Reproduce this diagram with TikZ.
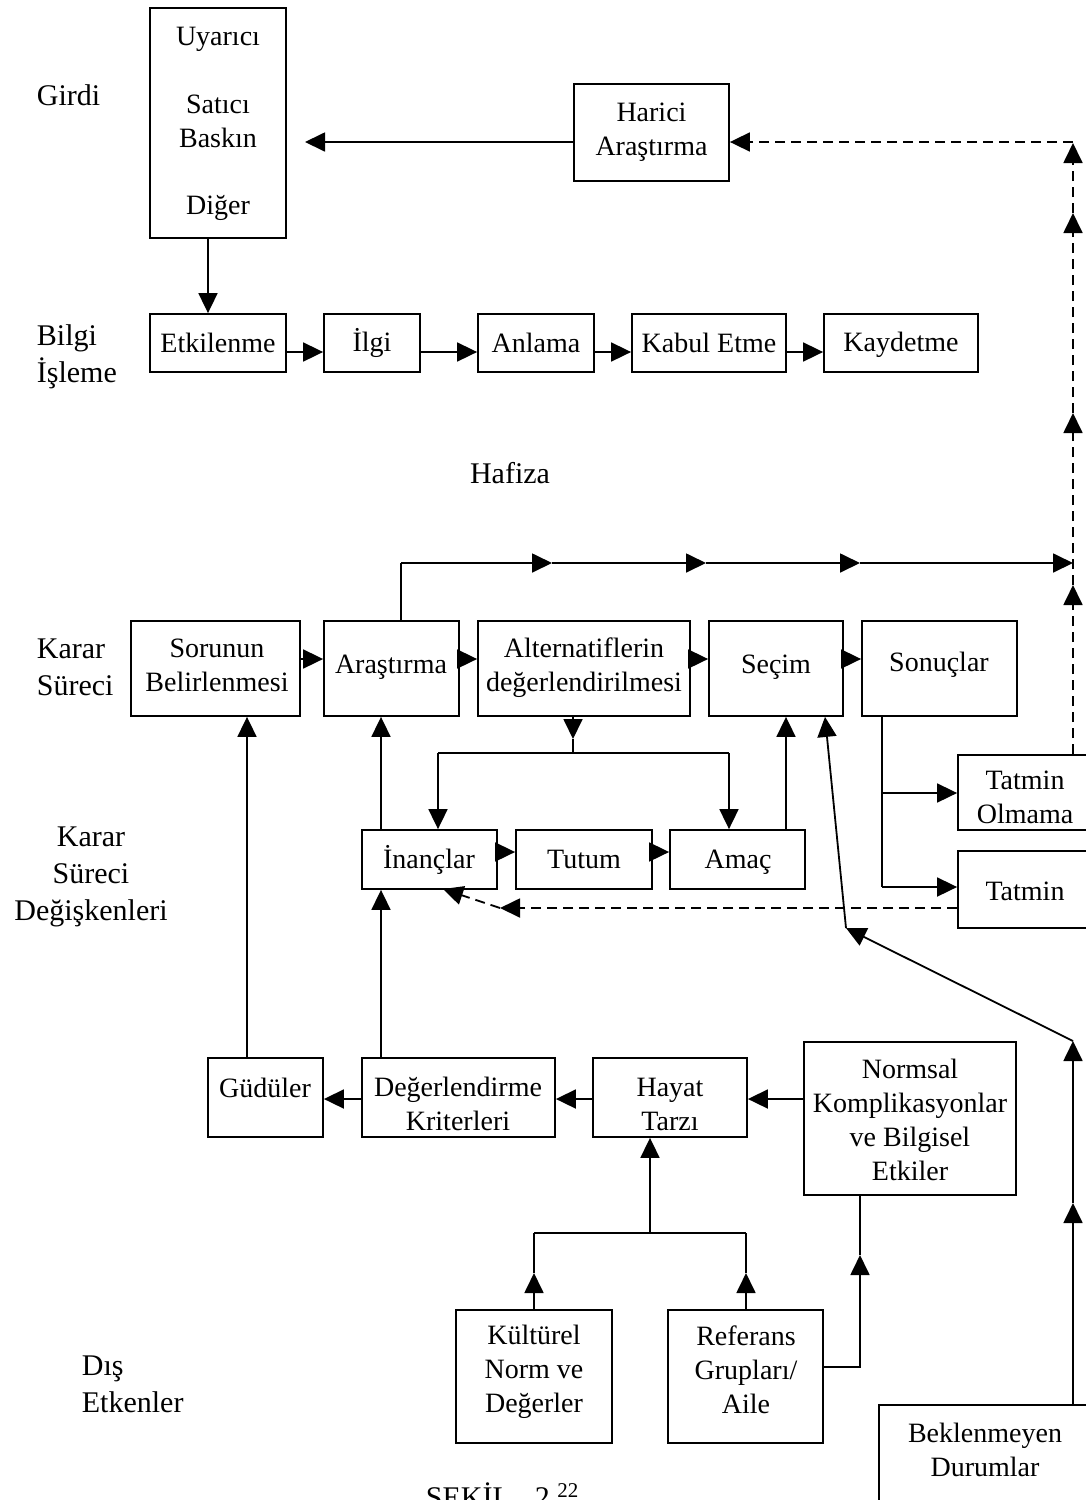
\documentclass[tikz,border=0pt]{standalone}
\usepackage{fontspec}
\setmainfont{Liberation Serif}
\usetikzlibrary{arrows.meta}
\begin{document}
\begin{tikzpicture}[x=1pt,y=-1pt,
  line width=1.8pt,
  box/.style={draw, line width=1.8pt, rectangle, inner sep=0pt},
  txt/.style={font=\fontsize{28}{34}\selectfont, align=center, inner sep=0pt},
  lbl/.style={font=\fontsize{30}{37}\selectfont, align=left, inner sep=0pt, anchor=west},
  clbl/.style={font=\fontsize{30}{37}\selectfont, align=center, inner sep=0pt},
  arr/.style={-{Triangle[length=20pt,width=19pt]}},
  darr/.style={arr, dash pattern=on 10pt off 6pt},
]
\useasboundingbox (0,0) rectangle (1085,1500);

% ---- side labels ----
\node[lbl] (girdi) at (36,95) {Girdi};
\node[lbl] (bilgi) at (36,357) {Bilgi\\İşleme};
\node[clbl] (hafiza) at (510,473) {Hafiza};
\node[lbl] (karar) at (36,667) {Karar\\Süreci};
\node[clbl] (kararvar) at (91,877) {Karar\\Süreci\\Değişkenleri};
\node[lbl] (dis) at (81,1384) {Dış\\Etkenler};
\node[font=\fontsize{30}{37}\selectfont, inner sep=0pt, anchor=base west] (sekil) at (425,1507) {ŞEKİL\hspace{24pt}2.\textsuperscript{22}};

% ---- input ----
\node[box, minimum width=136pt, minimum height=230pt] (inp) at (218,123) {};
\node[txt] (inp-a) at (218,39) {Uyarıcı};
\node[txt] (inp-b) at (218,121) {Satıcı\\Baskın};
\node[txt] (inp-c) at (218,208) {Diğer};

\node[box, minimum width=155pt, minimum height=97pt] (harici) at (651.5,132.5) {};
\node[txt] (harici-t) at (651.5,132) {Harici\\Araştırma};

% ---- information processing ----
\node[box, minimum width=136pt, minimum height=58pt] (etk) at (218,343) {};
\node[txt] at (218,343) (etk-t) {Etkilenme};
\node[box, minimum width=96pt, minimum height=58pt] (ilgi) at (372,343) {};
\node[txt] at (372,343) (ilgi-t) {İlgi};
\node[box, minimum width=116pt, minimum height=58pt] (anl) at (536,343) {};
\node[txt] at (536,343) (anl-t) {Anlama};
\node[box, minimum width=154pt, minimum height=58pt] (kabul) at (709,343) {};
\node[txt] at (709,343) (kabul-t) {Kabul Etme};
\node[box, minimum width=154pt, minimum height=58pt] (kayd) at (901,343) {};
\node[txt] at (901,345) (kayd-t) {Kaydetme};

% ---- decision process ----
\node[box, minimum width=169pt, minimum height=95pt] (sor) at (215.5,668.5) {};
\node[txt] (sor-t) at (217,665) {Sorunun\\Belirlenmesi};
\node[box, minimum width=135pt, minimum height=95pt] (ara) at (391.5,668.5) {};
\node[txt] (ara-t) at (391,667) {Araştırma};
\node[box, minimum width=212pt, minimum height=95pt] (alt) at (584,668.5) {};
\node[txt] (alt-t) at (584,668) {Alternatiflerin\\değerlendirilmesi};
\node[box, minimum width=134pt, minimum height=95pt] (sec) at (776,668.5) {};
\node[txt] (sec-t) at (776,667) {Seçim};
\node[box, minimum width=155pt, minimum height=95pt] (son) at (939.5,668.5) {};
\node[txt] (son-t) at (939,665) {Sonuçlar};

\node[box, minimum width=136pt, minimum height=75pt] (tolm) at (1026,792.5) {};
\node[txt] (tolm-t) at (1025,797) {Tatmin\\Olmama};
\node[box, minimum width=136pt, minimum height=77pt] (tat) at (1026,889.5) {};
\node[txt] (tat-t) at (1025,891) {Tatmin};

% ---- decision variables ----
\node[box, minimum width=135pt, minimum height=59pt] (inan) at (429.5,859.5) {};
\node[txt] (inan-t) at (429,860) {İnançlar};
\node[box, minimum width=136pt, minimum height=59pt] (tut) at (584,859.5) {};
\node[txt] (tut-t) at (584,859) {Tutum};
\node[box, minimum width=135pt, minimum height=59pt] (amac) at (737.5,859.5) {};
\node[txt] (amac-t) at (738,862) {Amaç};

\node[box, minimum width=115pt, minimum height=79pt] (gud) at (265.5,1097.5) {};
\node[txt] (gud-t) at (265,1088) {Güdüler};
\node[box, minimum width=193pt, minimum height=79pt] (degk) at (458.5,1097.5) {};
\node[txt] (degk-t) at (458,1104) {Değerlendirme\\Kriterleri};
\node[box, minimum width=154pt, minimum height=79pt] (hay) at (670,1097.5) {};
\node[txt] (hay-t) at (670,1104) {Hayat\\Tarzı};
\node[box, minimum width=212pt, minimum height=153pt] (norm) at (910,1118.5) {};
\node[txt] (norm-t) at (910,1120) {Normsal\\Komplikasyonlar\\ve Bilgisel\\Etkiler};

% ---- external factors ----
\node[box, minimum width=156pt, minimum height=133pt] (kult) at (534,1376.5) {};
\node[txt] (kult-t) at (534,1372) {Kültürel\\Norm ve\\Değerler};
\node[box, minimum width=155pt, minimum height=133pt] (ref) at (745.5,1376.5) {};
\node[txt] (ref-t) at (746,1370) {Referans\\Grupları/\\Aile};
\node[box, minimum width=214pt, minimum height=115pt] (bek) at (986,1462.5) {};
\node[txt] (bek-t) at (985,1450) {Beklenmeyen\\Durumlar};

% ---- connectors: input and external search ----
\draw[arr] ([xshift=-10pt]inp.south) -- ([xshift=-10pt]inp.south |- etk.north);
\coordinate (hx) at (305,142);
\draw[arr] (harici.west |- hx) -- (hx);

% dashed feedback column on the right
\coordinate (dc) at (1073,142);
\coordinate (d1) at (1073,585);
\coordinate (d2) at (1073,413);
\coordinate (d3) at (1073,213);
\coordinate (d4) at (1073,143);
\draw[darr] (tolm.north -| dc) -- (d1);
\draw[darr] (d1) -- (d2);
\draw[darr] (d2) -- (d3);
\draw[darr] (d3) -- (d4);
\draw[darr] (dc) -- (harici.east |- dc);

% information processing chain
\foreach \a/\b in {etk/ilgi, ilgi/anl, anl/kabul, kabul/kayd}
  \draw[arr] (\a.east |- 0,352) -- (\b.west |- 0,352);

% line above the decision process
\coordinate (t0) at (401,563);
\coordinate (t1) at (552,563);
\coordinate (t2) at (706,563);
\coordinate (t3) at (860,563);
\coordinate (t4) at (1073,563);
\draw (ara.north -| t0) -- (t0);
\draw[arr] (t0) -- (t1);
\draw[arr] (t1) -- (t2);
\draw[arr] (t2) -- (t3);
\draw[arr] (t3) -- (t4);

% decision process chain
\foreach \a/\b in {sor/ara, ara/alt, alt/sec, sec/son}
  \draw[arr] (\a.east |- 0,659) -- (\b.west |- 0,659);

% evaluation of alternatives feeds beliefs and goal
\coordinate (ab) at (573,753);
\coordinate (abt) at (573,739);
\draw[arr] (alt.south -| ab) -- (abt);
\draw (abt) -- (ab);
\coordinate (bl) at (438,753);
\coordinate (br) at (729,753);
\draw (bl) -- (br);
\draw[arr] (bl) -- (inan.north -| bl);
\draw[arr] (br) -- (amac.north -| br);

% variables chain
\foreach \a/\b in {inan/tut, tut/amac}
  \draw[arr] (\a.east |- 0,852) -- (\b.west |- 0,852);
\coordinate (as) at (786,800);
\draw[arr] (amac.north -| as) -- (sec.south -| as);
\coordinate (ia) at (381,800);
\draw[arr] (inan.north -| ia) -- (ara.south -| ia);
\coordinate (gs) at (247,900);
\draw[arr] (gud.north -| gs) -- (sor.south -| gs);
\coordinate (di) at (381,980);
\draw[arr] (degk.north -| di) -- (inan.south -| di);

% outcomes
\coordinate (s0) at (882,793);
\coordinate (s1) at (882,887);
\draw (son.south -| s0) -- (s1);
\draw[arr] (s0) -- (tolm.west |- s0);
\draw[arr] (s1) -- (tat.west |- s1);

% satisfaction feeds back to beliefs
\coordinate (f1) at (500,908);
\coordinate (f2) at (443,889);
\draw[darr] (tat.west |- f1) -- (f1);
\draw[darr] (f1) -- (f2);

% unexpected circumstances
\coordinate (r1) at (1073,1203);
\coordinate (r2) at (1073,1041);
\coordinate (r3) at (846,928);
\draw[arr] (bek.north -| r1) -- (r1);
\draw[arr] (r1) -- (r2);
\draw[arr] (r2) -- (r3);
\draw[arr] (r3) -- (sec.south -| 825,0);

% lower chain
\foreach \a/\b in {norm/hay, hay/degk, degk/gud}
  \draw[arr] (\a.west |- 0,1099) -- (\b.east |- 0,1099);

% external factors
\coordinate (h0) at (650,1233);
\coordinate (hl) at (534,1233);
\coordinate (hr) at (746,1233);
\coordinate (kl) at (534,1273);
\coordinate (kr) at (746,1273);
\draw[arr] (h0) -- (hay.south -| h0);
\draw (hl) -- (hr);
\draw[arr] (kult.north -| kl) -- (kl);
\draw (kl) -- (hl);
\draw[arr] (ref.north -| kr) -- (kr);
\draw (kr) -- (hr);

\coordinate (g0) at (860,1367);
\coordinate (g1) at (860,1255);
\draw[arr] (ref.east |- g0) -- (g0) -- (g1);
\draw (g1) -- (norm.south -| g1);
\end{tikzpicture}
\end{document}
